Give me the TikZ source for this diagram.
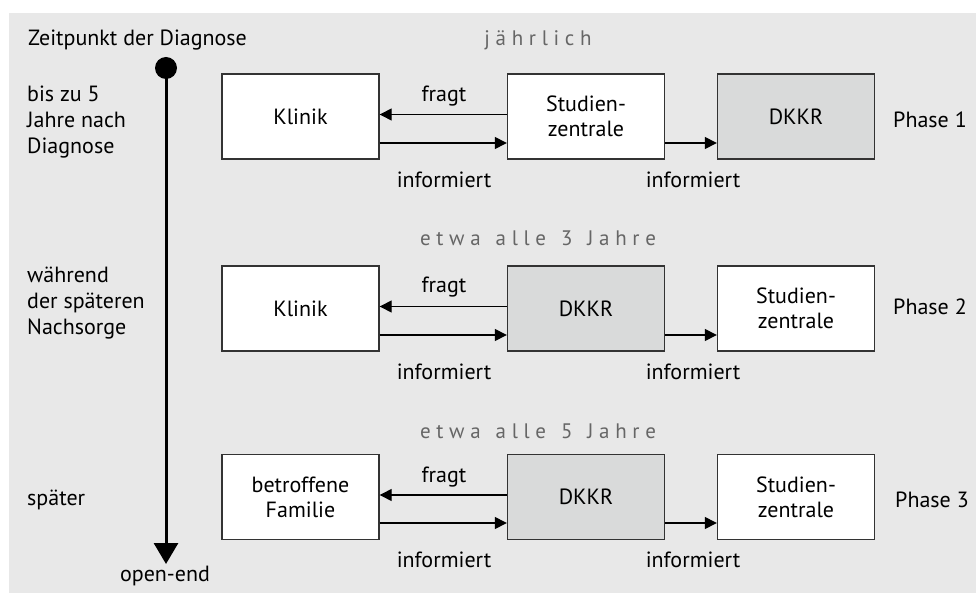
\documentclass[tikz,border=0pt]{standalone}
\usepackage{fontspec}
\setmainfont{PT Sans}
\newfontfamily\spacedfont[LetterSpace=27]{PT Sans}
\newcommand\wgap{\hspace*{15pt}}
\usetikzlibrary{arrows.meta}
\definecolor{bg}{HTML}{E8E8E8}
\definecolor{boxgray}{HTML}{D9DADA}
\definecolor{edge}{HTML}{333333}
\definecolor{spaced}{HTML}{666666}
\tikzset{
  box/.style={draw=edge, line width=1.4pt, fill=white, minimum width=157pt, minimum height=85pt, inner sep=0pt, align=center, font=\fontsize{22}{25}\selectfont},
  grbox/.style={box, fill=boxgray},
  arr/.style={line width=1.4pt, -{Triangle[length=12pt,width=12pt]}},
  lbl/.style={font=\fontsize{22}{25}\selectfont, inner sep=0pt},
  side/.style={font=\fontsize{22}{26}\selectfont, inner sep=0pt, align=left, anchor=west},
  freq/.style={font=\spacedfont\fontsize{21}{24}\selectfont, text=spaced, inner sep=0pt}
}
\begin{document}
\begin{tikzpicture}[x=1pt,y=-1pt]
\useasboundingbox (0,0) rectangle (976,593);
\fill[white] (0,0) rectangle (976,593);
\fill[bg] (9,13) rectangle (976,593);
% timeline
\node[lbl, anchor=west] (zeit) at (28,40) {Zeitpunkt der Diagnose};
\fill (166,68) circle (11pt);
\coordinate (tstart) at (166,68);
\coordinate (tend) at (166,564);
\draw[line width=3pt, -{Triangle[length=21pt,width=24pt]}] (tstart) -- (tend);
\node[lbl] (open) at (165,576) {open-end};
\node[side] (l1) at (27,122) {bis zu 5\\Jahre nach\\Diagnose};
\node[side] (l2) at (27,303) {während\\der späteren\\Nachsorge};
\node[side] (l3) at (27,500) {später};
% row 1
\node[freq] (f1) at (538,40) {jährlich};
\node[box] (k1) at (300.5,116.5) {Klinik};
\node[box] (s1) at (586,116.5) {Studien-\\zentrale};
\node[grbox] (d1) at (796,116.5) {DKKR};
\node[lbl] (p1) at (930,120) {Phase 1};
\draw[arr] ([yshift=2pt]s1.west) -- ([yshift=2pt]k1.east);
\draw[arr] ([yshift=-26.5pt]k1.east) -- ([yshift=-26.5pt]s1.west);
\draw[arr] ([yshift=-26.5pt]s1.east) -- ([yshift=-26.5pt]d1.west);
\node[lbl] (fr1) at (444,96) {fragt};
\node[lbl] (in1a) at (444,180) {informiert};
\node[lbl] (in1b) at (693,180) {informiert};
% row 2
\node[freq] (f2) at (538,238) {etwa\wgap alle\wgap 3\wgap Jahre};
\node[box] (k2) at (300.5,308.5) {Klinik};
\node[grbox] (d2) at (586,308.5) {DKKR};
\node[box] (s2) at (796,308.5) {Studien-\\zentrale};
\node[lbl] (p2) at (930,307) {Phase 2};
\draw[arr] ([yshift=2pt]d2.west) -- ([yshift=2pt]k2.east);
\draw[arr] ([yshift=-26.5pt]k2.east) -- ([yshift=-26.5pt]d2.west);
\draw[arr] ([yshift=-26.5pt]d2.east) -- ([yshift=-26.5pt]s2.west);
\node[lbl] (fr2) at (444,287) {fragt};
\node[lbl] (in2a) at (444,372) {informiert};
\node[lbl] (in2b) at (693,372) {informiert};
% row 3
\node[freq] (f3) at (538,431) {etwa\wgap alle\wgap 5\wgap Jahre};
\node[box] (k3) at (300.5,497) {betroffene\\Familie};
\node[grbox] (d3) at (586,497) {DKKR};
\node[box] (s3) at (796,497) {Studien-\\zentrale};
\node[lbl] (p3) at (932,500) {Phase 3};
\draw[arr] ([yshift=2pt]d3.west) -- ([yshift=2pt]k3.east);
\draw[arr] ([yshift=-26pt]k3.east) -- ([yshift=-26pt]d3.west);
\draw[arr] ([yshift=-26pt]d3.east) -- ([yshift=-26pt]s3.west);
\node[lbl] (fr3) at (444,477) {fragt};
\node[lbl] (in3a) at (444,560) {informiert};
\node[lbl] (in3b) at (693,560) {informiert};
\end{tikzpicture}
\end{document}
